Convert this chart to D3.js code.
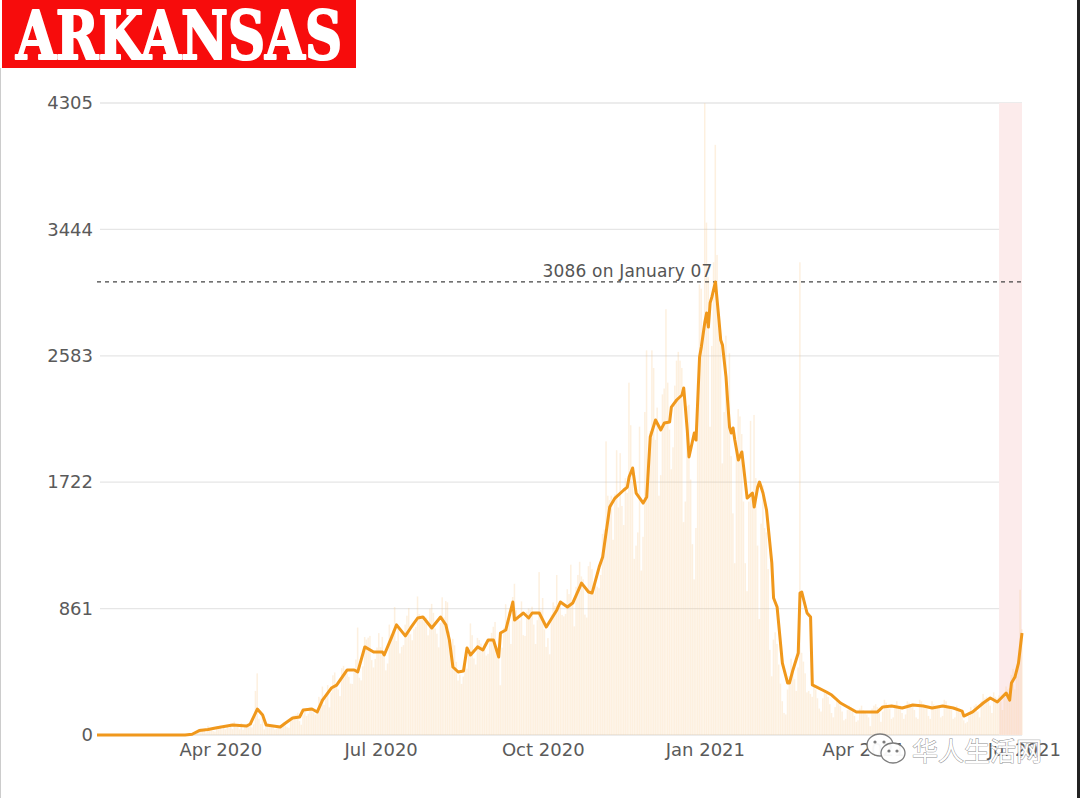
<!DOCTYPE html>
<html>
<head>
<meta charset="utf-8">
<script src="https://cdn.jsdelivr.net/npm/d3@7"></script>
<style>
  html, body { margin: 0; padding: 0; background: #fff; }
  svg { display: block; }
</style>
</head>
<body>
<svg id="chart" width="1080" height="798"></svg>
<script>
// ---------------- DATA ----------------
const title = "ARKANSAS";
const firstDate = "2020-01-22";
const lastDate = "2021-06-30";
const dailyStart = "2020-03-11";
// Daily new cases, one value per day from dailyStart
const dailyCases = [
  // Mar 2020 (11-31)
  1,5,3,3,4,11,15,9,16,34,43,30,36,17,62,37,32,27,23,47,50,
  // Apr 2020
  63,39,60,39,54,49,77,40,91,57,58,39,81,36,64,77,66,61,52,72,300,420,111,75,124,38,81,80,63,66,
  // May 2020
  62,38,44,56,59,68,85,64,53,49,97,121,134,140,152,95,70,139,173,130,145,189,163,154,140,168,260,248,330,205,250,
  // Jun 2020
  340,188,290,407,426,350,310,265,455,471,436,420,396,350,348,430,514,732,390,372,468,667,650,663,675,510,460,518,596,694,
  // Jul 2020
  598,668,558,440,487,752,686,713,872,640,734,556,600,612,752,813,865,686,645,720,735,944,824,789,806,770,800,679,860,893,832,
  // Aug 2020
  726,690,597,763,938,802,913,904,705,584,655,611,498,371,410,348,398,476,452,545,760,680,522,480,661,647,622,590,622,541,553,
  // Sep 2020
  651,696,737,770,601,546,339,595,730,891,780,840,620,940,1030,850,810,780,910,680,675,840,862,854,874,752,620,782,1110,850,
  // Oct 2020
  933,720,600,660,550,820,903,880,1090,863,900,818,808,825,993,960,1160,920,740,1010,1090,1180,1080,1060,820,800,1150,1180,1130,960,1020,
  // Nov 2020
  1010,1000,1090,1370,1400,2000,1630,1600,1630,1330,1640,1940,1550,1920,1560,1430,1750,1650,2400,2110,1720,1200,1290,1380,2100,1120,1350,2200,2620,1880,
  // Dec 2020
  2070,2620,2500,2010,2230,1630,1770,2320,2360,2900,2400,2080,1810,1960,2380,2550,2610,2550,2500,1450,1590,2240,2250,1740,1300,1060,1410,2400,3070,3040,2700,
  // Jan 2021
  4304,3490,3120,2100,2650,3220,4020,3270,2830,2680,1850,2200,2720,2290,2600,1900,1510,1170,1960,2220,2170,2050,1590,1170,980,1590,2140,1610,2180,1750,1290,
  // Feb 2021
  790,1440,1700,1410,1380,1130,580,400,650,700,620,480,350,230,150,140,310,400,520,450,380,300,460,3220,560,500,420,290,
  // Mar 2021
  300,280,260,330,310,250,180,160,250,300,280,260,210,150,120,190,250,220,200,160,100,110,170,200,190,180,130,90,100,180,200,
  // Apr 2021
  170,150,140,120,60,180,200,210,190,150,90,160,240,220,200,180,110,120,210,230,190,200,150,110,140,230,220,210,190,170,
  // May 2021
  120,110,240,230,210,200,180,130,110,230,210,200,190,190,120,130,240,230,200,190,170,110,120,200,180,160,150,100,80,90,130,
  // Jun 2021
  190,170,200,210,160,120,230,280,250,260,240,200,150,290,260,250,270,230,170,280,330,310,320,410,450,310,400,500,990,720
];
// 7-day average line, traced vertices [date, value]
const avgSeries = [
  ["2020-01-22",0],["2020-03-12",0],["2020-03-16",5],["2020-03-20",30],["2020-03-25",38],["2020-03-30",50],
  ["2020-04-08",68],["2020-04-16",61],["2020-04-18",75],["2020-04-22",177],["2020-04-25",136],["2020-04-27",68],
  ["2020-05-05",55],["2020-05-08",82],["2020-05-12",116],["2020-05-16",123],["2020-05-18",170],["2020-05-23",177],
  ["2020-05-26",157],["2020-05-29",238],["2020-06-03",320],["2020-06-06",340],["2020-06-12",443],["2020-06-16",443],
  ["2020-06-18",430],["2020-06-22",600],["2020-06-27",565],["2020-07-02",565],["2020-07-03",545],["2020-07-07",660],
  ["2020-07-10",750],["2020-07-15",675],["2020-07-18",729],["2020-07-22",797],["2020-07-25",804],["2020-07-30",729],
  ["2020-08-04",804],["2020-08-07",750],["2020-08-09",647],["2020-08-11",463],["2020-08-14",429],["2020-08-17",436],
  ["2020-08-19",593],["2020-08-21",545],["2020-08-25",600],["2020-08-28",579],["2020-08-31",647],["2020-09-03",647],
  ["2020-09-06",531],["2020-09-07",695],["2020-09-10",715],["2020-09-14",906],["2020-09-15",783],["2020-09-20",831],
  ["2020-09-23",797],["2020-09-25",831],["2020-09-29",831],["2020-10-03",736],["2020-10-09",852],["2020-10-11",906],
  ["2020-10-15",872],["2020-10-18",899],["2020-10-23",1035],["2020-10-27",974],["2020-10-29",967],["2020-11-02",1144],
  ["2020-11-04",1212],["2020-11-08",1553],["2020-11-11",1614],["2020-11-16",1669],["2020-11-18",1689],["2020-11-19",1757],
  ["2020-11-21",1819],["2020-11-23",1648],["2020-11-27",1580],["2020-11-29",1621],["2020-12-01",2030],["2020-12-04",2146],
  ["2020-12-07",2078],["2020-12-09",2125],["2020-12-12",2132],["2020-12-13",2234],["2020-12-16",2282],["2020-12-19",2316],
  ["2020-12-20",2364],["2020-12-22",2078],["2020-12-23",1894],["2020-12-26",2057],["2020-12-27",2009],["2020-12-29",2575],
  ["2020-12-30",2643],["2021-01-01",2813],["2021-01-02",2875],["2021-01-03",2779],["2021-01-04",2943],["2021-01-05",2984],
  ["2021-01-07",3086],["2021-01-09",2827],["2021-01-10",2691],["2021-01-11",2657],["2021-01-13",2439],["2021-01-14",2262],
  ["2021-01-15",2098],["2021-01-16",2057],["2021-01-17",2091],["2021-01-18",2009],["2021-01-20",1873],["2021-01-22",1928],
  ["2021-01-23",1826],["2021-01-25",1614],["2021-01-28",1648],["2021-01-29",1553],["2021-01-31",1689],["2021-02-01",1723],
  ["2021-02-03",1648],["2021-02-05",1533],["2021-02-08",1172],["2021-02-09",933],["2021-02-11",872],["2021-02-14",490],
  ["2021-02-17",354],["2021-02-18",354],["2021-02-20",443],["2021-02-23",559],["2021-02-24",967],["2021-02-25",974],
  ["2021-02-28",831],["2021-03-02",804],["2021-03-03",341],["2021-03-11",293],["2021-03-14",272],["2021-03-19",218],
  ["2021-03-28",157],["2021-04-09",157],["2021-04-12",191],["2021-04-17",198],["2021-04-23",184],["2021-04-29",204],
  ["2021-05-05",198],["2021-05-10",184],["2021-05-16",198],["2021-05-22",184],["2021-05-27",163],["2021-05-28",129],
  ["2021-06-02",157],["2021-06-08",218],["2021-06-12",252],["2021-06-16",225],["2021-06-21",286],["2021-06-23",238],
  ["2021-06-24",354],["2021-06-26",395],["2021-06-28",490],["2021-06-30",695]
];
const yTicks = [0, 861, 1722, 2583, 3444, 4305];
const xTickDates = ["2020-04-01","2020-07-01","2020-10-01","2021-01-01","2021-04-01","2021-07-01"];
const xTickLabels = ["Apr 2020","Jul 2020","Oct 2020","Jan 2021","Apr 2021","Jul 2021"];
const peak = { date: "2021-01-07", value: 3086, label: "3086 on January 07" };
const incompleteFrom = "2021-06-17";
const watermark = "华人生活网";

// ---------------- CHART ----------------
const parse = d3.utcParse("%Y-%m-%d");
const svg = d3.select("#chart");
svg.append("rect").attr("width",1080).attr("height",798).attr("fill","#fff");

const plot = { left: 97, right: 1022, top: 103, bottom: 735 };
const x = d3.scaleUtc().domain([parse(firstDate), parse(lastDate)]).range([plot.left, plot.right]);
const y = d3.scaleLinear().domain([0, 4305]).range([plot.bottom, plot.top]);

// gridlines
svg.append("g").selectAll("line").data(yTicks).join("line")
  .attr("x1", 100).attr("x2", plot.right)
  .attr("y1", d => y(d)).attr("y2", d => y(d))
  .attr("stroke", "#e6e6e6").attr("stroke-width", 1.3);

// incomplete-data band
svg.append("rect")
  .attr("x", x(parse(incompleteFrom)))
  .attr("y", plot.top)
  .attr("width", plot.right - x(parse(incompleteFrom)))
  .attr("height", plot.bottom - plot.top)
  .attr("fill", "#fcebeb");

// daily bars
const start = parse(dailyStart);
const daily = dailyCases.map((v, i) => ({ date: d3.utcDay.offset(start, i), value: v }));
const bw = x(d3.utcDay.offset(start, 1)) - x(start);
svg.append("g").selectAll("rect").data(daily).join("rect")
  .attr("x", d => x(d.date) - bw / 2)
  .attr("width", bw * 0.85)
  .attr("y", d => y(d.value))
  .attr("height", d => y(0) - y(d.value))
  .attr("fill", "#f9c88c")
  .attr("fill-opacity", 0.28);

// y axis labels
const yAxis = d3.axisLeft(y).tickValues(yTicks).tickSize(0).tickPadding(0).tickFormat(d3.format("d"));
const gy = svg.append("g").attr("transform", "translate(93,0)").call(yAxis);
gy.select(".domain").remove();
gy.selectAll("text").attr("font-family", "DejaVu Sans, Verdana, sans-serif")
  .attr("font-size", 18).attr("fill", "#5a5a5a");

// x axis labels
const xAxis = d3.axisBottom(x).tickValues(xTickDates.map(parse)).tickSize(0).tickPadding(0)
  .tickFormat((d, i) => xTickLabels[i]);
const gx = svg.append("g").attr("transform", "translate(0,743)").call(xAxis);
gx.select(".domain").remove();
gx.selectAll("text").attr("font-family", "DejaVu Sans, Verdana, sans-serif")
  .attr("font-size", 18).attr("fill", "#5a5a5a");

// peak dashed line
svg.append("line")
  .attr("x1", plot.left).attr("x2", plot.right)
  .attr("y1", y(peak.value)).attr("y2", y(peak.value))
  .attr("stroke", "#444").attr("stroke-width", 1.2).attr("stroke-dasharray", "4,4");
svg.append("text")
  .attr("x", x(parse(peak.date)) - 3).attr("y", y(peak.value) - 5)
  .attr("text-anchor", "end")
  .attr("font-family", "DejaVu Sans, Verdana, sans-serif").attr("font-size", 17)
  .attr("textLength", 170).attr("lengthAdjust", "spacing")
  .attr("fill", "#555").text(peak.label);

// 7-day average line
const line = d3.line().x(d => x(parse(d[0]))).y(d => y(d[1])).curve(d3.curveLinear);
svg.append("path").datum(avgSeries)
  .attr("d", line).attr("fill", "none")
  .attr("stroke", "#f0981c").attr("stroke-width", 3).attr("stroke-linejoin", "round");

// title
svg.append("rect").attr("x", 2).attr("y", 0).attr("width", 354).attr("height", 68).attr("fill", "#f70c0c");
svg.append("text")
  .attr("x", 16).attr("y", 59)
  .attr("font-family", "DejaVu Serif, serif").attr("font-weight", "bold")
  .attr("font-size", 68).attr("textLength", 326).attr("lengthAdjust", "spacingAndGlyphs")
  .attr("fill", "#fff").attr("stroke", "#fff").attr("stroke-width", 2.2)
  .attr("stroke-linejoin", "round").text(title);

// watermark
const wm = svg.append("g").attr("opacity", 0.95);
wm.append("ellipse").attr("cx", 880).attr("cy", 745).attr("rx", 13).attr("ry", 11)
  .attr("fill", "#fff").attr("stroke", "#777").attr("stroke-width", 1.3);
wm.append("ellipse").attr("cx", 893).attr("cy", 753).attr("rx", 12).attr("ry", 10)
  .attr("fill", "#fff").attr("stroke", "#777").attr("stroke-width", 1.3);
[[875,742],[884,742],[889,751],[897,751]].forEach(p =>
  wm.append("circle").attr("cx", p[0]).attr("cy", p[1]).attr("r", 1.6).attr("fill", "#777"));
wm.append("text").attr("x", 912).attr("y", 761)
  .attr("font-family", "Noto Sans CJK SC, sans-serif").attr("font-size", 26)
  .attr("fill", "#fff").attr("stroke", "#888").attr("stroke-width", 0.9)
  .attr("paint-order", "stroke").text(watermark);

// frame edges
svg.append("rect").attr("x", 1077).attr("y", 0).attr("width", 3).attr("height", 798).attr("fill", "#222");
svg.append("rect").attr("x", 0).attr("y", 68).attr("width", 1).attr("height", 730).attr("fill", "#ccc");
</script>
</body>
</html>
